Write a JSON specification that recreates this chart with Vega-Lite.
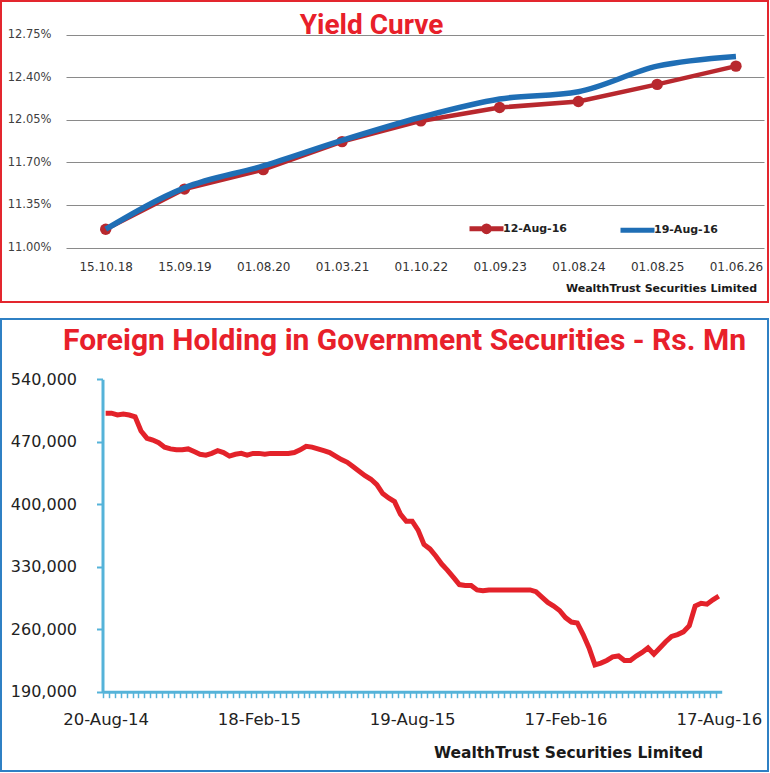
{
  "$schema": "https://vega.github.io/schema/vega-lite/v6.json",
  "background": "white",
  "padding": 0,
  "spacing": 15,
  "config": {"font": "DejaVu Sans"},
  "vconcat": [
    {
      "width": 767,
      "height": 301,
      "view": {"stroke": "#E3262E", "strokeWidth": 2},
      "title": {"text": "Yield Curve", "font": "Roboto", "fontSize": 28, "fontWeight": "bold", "color": "#E8202A", "anchor": "middle", "dx": -13, "offset": -39, "baseline": "top"},
      "data": {"values": [
        {"maturity": "15.10.18", "series": "12-Aug-16", "yield": 0.1115},
        {"maturity": "15.09.19", "series": "12-Aug-16", "yield": 0.1148},
        {"maturity": "01.08.20", "series": "12-Aug-16", "yield": 0.1164},
        {"maturity": "01.03.21", "series": "12-Aug-16", "yield": 0.1187},
        {"maturity": "01.10.22", "series": "12-Aug-16", "yield": 0.1204},
        {"maturity": "01.09.23", "series": "12-Aug-16", "yield": 0.1215},
        {"maturity": "01.08.24", "series": "12-Aug-16", "yield": 0.1220},
        {"maturity": "01.08.25", "series": "12-Aug-16", "yield": 0.1234},
        {"maturity": "01.06.26", "series": "12-Aug-16", "yield": 0.1249},
        {"maturity": "15.10.18", "series": "19-Aug-16", "yield": 0.1115},
        {"maturity": "15.09.19", "series": "19-Aug-16", "yield": 0.1149},
        {"maturity": "01.08.20", "series": "19-Aug-16", "yield": 0.1167},
        {"maturity": "01.03.21", "series": "19-Aug-16", "yield": 0.1188},
        {"maturity": "01.10.22", "series": "19-Aug-16", "yield": 0.1207},
        {"maturity": "01.09.23", "series": "19-Aug-16", "yield": 0.1222},
        {"maturity": "01.08.24", "series": "19-Aug-16", "yield": 0.1228},
        {"maturity": "01.08.25", "series": "19-Aug-16", "yield": 0.1249},
        {"maturity": "01.06.26", "series": "19-Aug-16", "yield": 0.1257}
      ]},
      "encoding": {
        "x": {
          "field": "maturity", "type": "ordinal", "sort": null,
          "scale": {"type": "point", "range": [65, 763], "padding": 0.43, "align": 0.586, "round": false},
          "axis": {"orient": "bottom", "offset": -45, "domain": false, "ticks": false, "tickSize": 0, "labelAngle": 0, "labelPadding": 4, "labelFontSize": 12, "labelColor": "#333333", "grid": false,
            "title": "WealthTrust Securities Limited", "titleFontSize": 11, "titleFontWeight": "bold", "titleColor": "#1a1a1a", "titleX": 660, "titleY": 31, "titleAlign": "center", "titleBaseline": "middle"}
        },
        "y": {
          "field": "yield", "type": "quantitative",
          "scale": {"domain": [0.11, 0.1275], "range": [246.5, 33.5], "nice": false, "zero": false},
          "axis": {"orient": "left", "offset": -50, "values": [0.11, 0.1135, 0.117, 0.1205, 0.124, 0.1275], "format": ".2%", "domain": false, "ticks": false, "tickSize": 0, "labelPadding": 0, "labelFontSize": 11.5, "labelColor": "#404040", "grid": true, "gridColor": "#8A8A8A", "gridWidth": 1, "title": null}
        },
        "color": {
          "field": "series", "type": "nominal",
          "scale": {"domain": ["12-Aug-16", "19-Aug-16"], "range": ["#B8282E", "#1F6EB5"]},
          "legend": {"orient": "none", "legendX": 466, "legendY": 208, "direction": "horizontal", "title": null, "symbolType": "stroke", "symbolSize": 1156, "symbolStrokeWidth": 5, "labelFontSize": 11, "labelFontWeight": "bold", "labelColor": "#222222", "labelOffset": -3, "columnPadding": 43, "padding": 0,
            "encode": {"symbols": {"update": {
              "shape": {"signal": "datum.value === '12-Aug-16' ? 'M-1,0H1M0.17,0A0.17,0.17,0,1,1,-0.17,0A0.17,0.17,0,1,1,0.17,0Z' : 'stroke'"},
              "fill": {"signal": "datum.value === '12-Aug-16' ? '#B8282E' : 'transparent'"}
            }}}}
        }
      },
      "layer": [
        {"transform": [{"filter": "datum.series === '12-Aug-16'"}], "mark": {"type": "line", "strokeWidth": 4.5}},
        {"transform": [{"filter": "datum.series === '12-Aug-16'"}], "mark": {"type": "point", "filled": true, "size": 130, "opacity": 1}},
        {"transform": [{"filter": "datum.series === '19-Aug-16'"}], "mark": {"type": "line", "strokeWidth": 5.5, "interpolate": "monotone"}}
      ]
    },
    {
      "width": 767,
      "height": 452,
      "view": {"stroke": "#2F80C4", "strokeWidth": 2},
      "title": {"text": "Foreign Holding in Government Securities - Rs. Mn", "font": "Roboto", "fontSize": 30, "fontWeight": "bold", "color": "#E8202A", "anchor": "middle", "dx": 20, "offset": -37, "baseline": "top"},
      "data": {"values": [
        {"date": "2014-08-20", "holding": 502000},
        {"date": "2014-08-27", "holding": 502000},
        {"date": "2014-09-03", "holding": 500000},
        {"date": "2014-09-10", "holding": 501000},
        {"date": "2014-09-17", "holding": 500000},
        {"date": "2014-09-24", "holding": 498000},
        {"date": "2014-10-01", "holding": 482000},
        {"date": "2014-10-08", "holding": 474000},
        {"date": "2014-10-15", "holding": 472000},
        {"date": "2014-10-22", "holding": 469000},
        {"date": "2014-10-29", "holding": 464000},
        {"date": "2014-11-05", "holding": 462000},
        {"date": "2014-11-12", "holding": 461000},
        {"date": "2014-11-19", "holding": 461000},
        {"date": "2014-11-26", "holding": 462000},
        {"date": "2014-12-03", "holding": 459000},
        {"date": "2014-12-10", "holding": 456000},
        {"date": "2014-12-17", "holding": 455000},
        {"date": "2014-12-24", "holding": 457000},
        {"date": "2014-12-31", "holding": 460000},
        {"date": "2015-01-07", "holding": 458000},
        {"date": "2015-01-14", "holding": 454000},
        {"date": "2015-01-21", "holding": 456000},
        {"date": "2015-01-28", "holding": 457000},
        {"date": "2015-02-04", "holding": 455000},
        {"date": "2015-02-11", "holding": 457000},
        {"date": "2015-02-18", "holding": 457000},
        {"date": "2015-02-25", "holding": 456000},
        {"date": "2015-03-04", "holding": 457000},
        {"date": "2015-03-11", "holding": 457000},
        {"date": "2015-03-18", "holding": 457000},
        {"date": "2015-03-25", "holding": 457000},
        {"date": "2015-04-01", "holding": 458000},
        {"date": "2015-04-08", "holding": 461000},
        {"date": "2015-04-15", "holding": 465000},
        {"date": "2015-04-22", "holding": 464000},
        {"date": "2015-04-29", "holding": 462000},
        {"date": "2015-05-06", "holding": 460000},
        {"date": "2015-05-13", "holding": 458000},
        {"date": "2015-05-20", "holding": 454000},
        {"date": "2015-05-27", "holding": 450000},
        {"date": "2015-06-03", "holding": 447000},
        {"date": "2015-06-10", "holding": 442000},
        {"date": "2015-06-17", "holding": 437000},
        {"date": "2015-06-24", "holding": 432000},
        {"date": "2015-07-01", "holding": 428000},
        {"date": "2015-07-08", "holding": 422000},
        {"date": "2015-07-15", "holding": 412000},
        {"date": "2015-07-22", "holding": 407000},
        {"date": "2015-07-29", "holding": 403000},
        {"date": "2015-08-05", "holding": 389000},
        {"date": "2015-08-12", "holding": 381000},
        {"date": "2015-08-19", "holding": 381000},
        {"date": "2015-08-26", "holding": 371000},
        {"date": "2015-09-02", "holding": 355000},
        {"date": "2015-09-09", "holding": 350000},
        {"date": "2015-09-16", "holding": 342000},
        {"date": "2015-09-23", "holding": 333000},
        {"date": "2015-09-30", "holding": 326000},
        {"date": "2015-10-07", "holding": 318000},
        {"date": "2015-10-14", "holding": 310000},
        {"date": "2015-10-21", "holding": 309000},
        {"date": "2015-10-28", "holding": 309000},
        {"date": "2015-11-04", "holding": 304000},
        {"date": "2015-11-11", "holding": 303000},
        {"date": "2015-11-18", "holding": 304000},
        {"date": "2015-11-25", "holding": 304000},
        {"date": "2015-12-02", "holding": 304000},
        {"date": "2015-12-09", "holding": 304000},
        {"date": "2015-12-16", "holding": 304000},
        {"date": "2015-12-23", "holding": 304000},
        {"date": "2015-12-30", "holding": 304000},
        {"date": "2016-01-06", "holding": 304000},
        {"date": "2016-01-13", "holding": 302000},
        {"date": "2016-01-20", "holding": 296000},
        {"date": "2016-01-27", "holding": 290000},
        {"date": "2016-02-03", "holding": 286000},
        {"date": "2016-02-10", "holding": 281000},
        {"date": "2016-02-17", "holding": 273000},
        {"date": "2016-02-24", "holding": 268000},
        {"date": "2016-03-02", "holding": 267000},
        {"date": "2016-03-09", "holding": 254000},
        {"date": "2016-03-16", "holding": 239000},
        {"date": "2016-03-23", "holding": 220000},
        {"date": "2016-03-30", "holding": 222000},
        {"date": "2016-04-06", "holding": 225000},
        {"date": "2016-04-13", "holding": 229000},
        {"date": "2016-04-20", "holding": 230000},
        {"date": "2016-04-27", "holding": 225000},
        {"date": "2016-05-04", "holding": 225000},
        {"date": "2016-05-11", "holding": 230000},
        {"date": "2016-05-18", "holding": 234000},
        {"date": "2016-05-25", "holding": 239000},
        {"date": "2016-06-01", "holding": 232000},
        {"date": "2016-06-08", "holding": 239000},
        {"date": "2016-06-15", "holding": 246000},
        {"date": "2016-06-22", "holding": 252000},
        {"date": "2016-06-29", "holding": 254000},
        {"date": "2016-07-06", "holding": 257000},
        {"date": "2016-07-13", "holding": 264000},
        {"date": "2016-07-20", "holding": 286000},
        {"date": "2016-07-27", "holding": 289000},
        {"date": "2016-08-03", "holding": 288000},
        {"date": "2016-08-10", "holding": 293000},
        {"date": "2016-08-17", "holding": 297000}
      ]},
      "encoding": {
        "y": {
          "field": "holding", "type": "quantitative",
          "scale": {"domain": [190000, 540000], "range": [372.7, 60.3], "nice": false, "zero": false},
          "axis": {"orient": "left", "offset": -101.5, "values": [190000, 260000, 330000, 400000, 470000, 540000], "format": ",.0f", "domain": true, "domainColor": "#55B3D9", "domainWidth": 3, "ticks": true, "tickColor": "#55B3D9", "tickWidth": 2, "tickSize": 6, "labelPadding": 20, "labelFontSize": 16, "labelColor": "#222222", "grid": false, "title": null}
        }
      },
      "layer": [
        {
          "mark": {"type": "line", "strokeOpacity": 0},
          "encoding": {
            "x": {"field": "date", "type": "temporal",
              "scale": {"type": "utc", "domain": [{"year": 2014, "month": 8, "date": 16, "hours": 12, "utc": true}, {"year": 2016, "month": 8, "date": 20, "hours": 12, "utc": true}], "range": [101.7, 720.7]},
              "axis": {"orient": "bottom", "offset": -79.3, "domain": true, "domainColor": "#55B3D9", "domainWidth": 3, "ticks": true, "tickColor": "#55B3D9", "tickWidth": 1.5, "tickSize": 6, "labels": false, "grid": false, "title": null, "tickCount": {"interval": "week", "step": 1}}}
          }
        },
        {
          "mark": {"type": "line", "color": "#E3222A", "strokeWidth": 5},
          "encoding": {
            "x": {"field": "date", "type": "temporal",
              "scale": {"type": "utc", "domain": [{"year": 2014, "month": 8, "date": 16, "hours": 12, "utc": true}, {"year": 2016, "month": 8, "date": 20, "hours": 12, "utc": true}], "range": [101.7, 720.7]},
              "axis": {"orient": "bottom", "offset": -79.3, "domain": false, "ticks": false, "tickSize": 0, "labelPadding": 20, "labelFontSize": 16.5, "labelColor": "#222222", "labelFlush": false, "grid": false,
                "values": [{"year": 2014, "month": 8, "date": 20, "utc": true}, {"year": 2015, "month": 2, "date": 18, "utc": true}, {"year": 2015, "month": 8, "date": 19, "utc": true}, {"year": 2016, "month": 2, "date": 17, "utc": true}, {"year": 2016, "month": 8, "date": 17, "utc": true}],
                "format": "%d-%b-%y",
                "title": "WealthTrust Securities Limited", "titleFontSize": 15.5, "titleFontWeight": "bold", "titleColor": "#1a1a1a", "titleX": 567, "titleY": 61, "titleAlign": "center", "titleBaseline": "middle"}}
          }
        }
      ],
      "resolve": {"axis": {"x": "independent"}}
    }
  ]
}
